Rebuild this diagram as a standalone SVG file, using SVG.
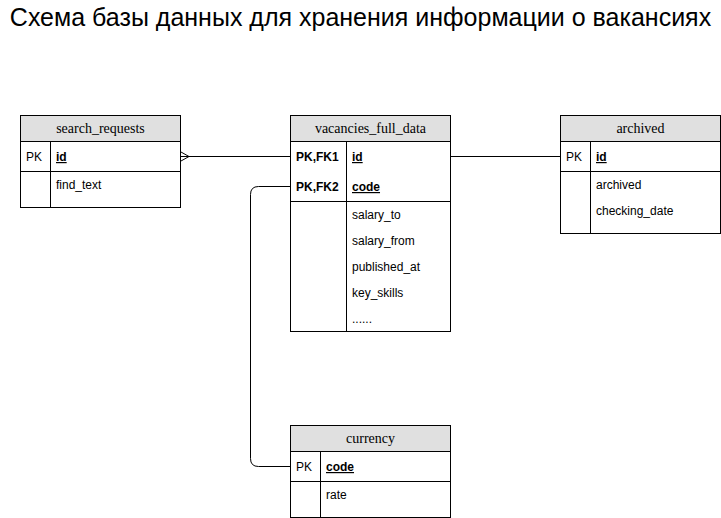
<svg xmlns="http://www.w3.org/2000/svg" width="721" height="518" viewBox="0 0 721 518">
<style>
.title{font-family:"Liberation Sans",Arial,sans-serif;font-size:25px;fill:#000}
.hdr{fill:#e0e0e0;stroke:#000;stroke-width:1}
.box{fill:#fff;stroke:#000;stroke-width:1}
.ln{stroke:#000;stroke-width:1;fill:none}
.hname{font-family:"Liberation Serif","Times New Roman",serif;font-size:14px;fill:#000;text-anchor:middle}
.f{font-family:"Liberation Sans",Arial,sans-serif;font-size:12px;fill:#000}
.b{font-weight:bold}
.u{text-decoration:underline}
</style>
<rect width="721" height="518" fill="#fff"/>
<text class="title" x="360.5" y="26" text-anchor="middle">Схема базы данных для хранения информации о вакансиях</text>

<g id="connectors">
<path class="ln" d="M180.5,156.5 H290.5"/>
<path class="ln" d="M181,152 L189,156.5 L181,161"/>
<path class="ln" d="M450.5,156.5 H560.5"/>
<path class="ln" d="M290.5,186.5 H258.5 Q250.5,186.5 250.5,194.5 V458.5 Q250.5,466.5 258.5,466.5 H290.5"/>
</g>

<g id="search_requests">
<rect class="box" x="20.5" y="115.5" width="160" height="92"/>
<rect class="hdr" x="20.5" y="115.5" width="160" height="26"/>
<text class="hname" x="100.5" y="133">search_requests</text>
<path class="ln" d="M20.5,171.5 H180.5 M50.5,141.5 V207.5"/>
<text class="f" x="26" y="161">PK</text>
<text class="f b u" x="56" y="161">id</text>
<text class="f" x="56" y="189">find_text</text>
</g>

<g id="vacancies_full_data">
<rect class="box" x="290.5" y="115.5" width="160" height="216"/>
<rect class="hdr" x="290.5" y="115.5" width="160" height="26"/>
<text class="hname" x="370.5" y="133">vacancies_full_data</text>
<path class="ln" d="M290.5,201.5 H450.5 M346.5,141.5 V331.5"/>
<text class="f b" x="296" y="161">PK,FK1</text>
<text class="f b u" x="352" y="161">id</text>
<text class="f b" x="296" y="191">PK,FK2</text>
<text class="f b u" x="352" y="191">code</text>
<text class="f" x="352" y="219">salary_to</text>
<text class="f" x="352" y="245">salary_from</text>
<text class="f" x="352" y="271">published_at</text>
<text class="f" x="352" y="297">key_skills</text>
<text class="f" x="352" y="323">......</text>
</g>

<g id="archived">
<rect class="box" x="560.5" y="115.5" width="160" height="118"/>
<rect class="hdr" x="560.5" y="115.5" width="160" height="26"/>
<text class="hname" x="640.5" y="133">archived</text>
<path class="ln" d="M560.5,171.5 H720.5 M590.5,141.5 V233.5"/>
<text class="f" x="566" y="161">PK</text>
<text class="f b u" x="596" y="161">id</text>
<text class="f" x="596" y="189">archived</text>
<text class="f" x="596" y="215">checking_date</text>
</g>

<g id="currency">
<rect class="box" x="290.5" y="425.5" width="160" height="92"/>
<rect class="hdr" x="290.5" y="425.5" width="160" height="26"/>
<text class="hname" x="370.5" y="443">currency</text>
<path class="ln" d="M290.5,481.5 H450.5 M320.5,451.5 V517.5"/>
<text class="f" x="296" y="471">PK</text>
<text class="f b u" x="326" y="471">code</text>
<text class="f" x="326" y="499">rate</text>
</g>
</svg>
